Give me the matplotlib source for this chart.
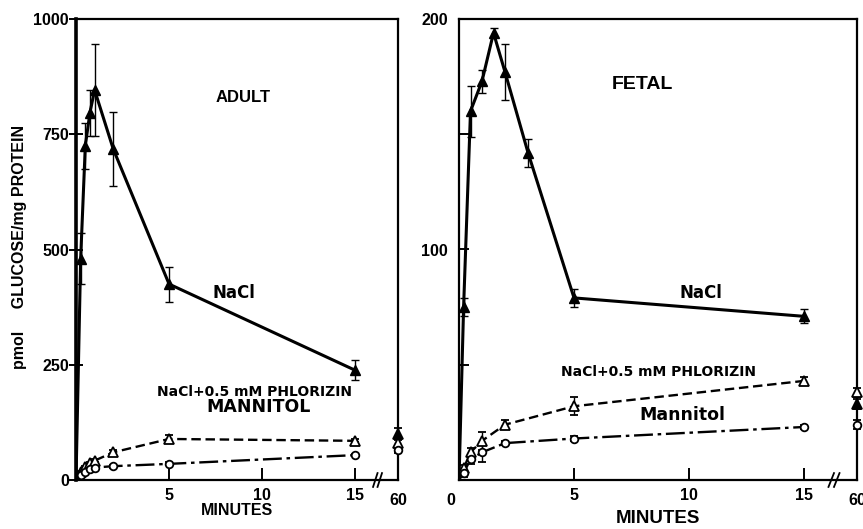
import matplotlib
matplotlib.use("Agg")
import matplotlib.pyplot as plt

plt.rcParams['font.family'] = ['Liberation Sans', 'DejaVu Sans']
plt.rcParams['font.weight'] = 'bold'
WIDE = ['DejaVu Sans']

# ---- data ----
X60 = 17.3  # display position of the 60-min point (after the axis break)

adult_t = [0.25, 0.5, 0.75, 1, 2, 5, 15]
adult_nacl = [480, 725, 797, 846, 718, 425, 238]
adult_nacl_err = [55, 50, 50, 100, 80, 38, 22]
adult_phl = [17, 28, 37, 42, 60, 89, 85]
adult_phl_err = [3, 3, 3, 4, 4, 9, 3]
adult_man = [10, 17, 24, 27, 30, 35, 54]
adult_man_err = [2, 2, 3, 3, 3, 3, 3]
adult_60 = {'nacl': (100, 12), 'phl': (80, 6), 'man': (65, 6)}

fetal_t = [0.2, 0.5, 1, 1.5, 2, 3, 5, 15]
fetal_nacl = [75, 160, 173, 194, 177, 142, 79, 71]
fetal_nacl_err = [4, 11, 5, 2, 12, 6, 4, 3]
fetal_t2 = [0.2, 0.5, 1, 2, 5, 15]
fetal_phl = [5, 12, 17, 24, 32, 43]
fetal_phl_err = [1.5, 2, 4, 2, 4, 1.5]
fetal_man = [3, 9, 12, 16, 18, 23]
fetal_man_err = [1.5, 2, 4, 1, 1, 1]
fetal_60 = {'nacl': (33, 2), 'phl': (38, 2), 'man': (24, 2)}

xticks = [0, 5, 10, 15, X60]
xticklabels = ['0', '5', '10', '15', '60']

fig = plt.figure(figsize=(8.63, 5.29), dpi=100)
axL = fig.add_axes([76/863, 1-480/529, 322/863, 461/529])
axR = fig.add_axes([459/863, 1-480/529, 398/863, 461/529])


def draw(ax, t, nacl, nacl_err, t2, phl, phl_err, man, man_err, d60):
    # lines starting from origin
    ax.plot([0] + list(t), [0] + list(nacl), color='black', lw=2.2, zorder=3)
    ax.errorbar(t, nacl, yerr=nacl_err, fmt='^', color='black', ms=7,
                ecolor='black', elinewidth=1.0, capsize=3, capthick=1.0, zorder=4)
    ax.plot([0] + list(t2), [0] + list(phl), color='black', lw=1.7,
            ls=(0, (4, 2)), zorder=3)
    ax.errorbar(t2, phl, yerr=phl_err, fmt='^', mfc='white', mec='black', mew=1.3,
                ms=6.5, ecolor='black', elinewidth=1.0, capsize=3, capthick=1.0, zorder=4)
    ax.plot([0] + list(t2), [0] + list(man), color='black', lw=1.7,
            ls=(0, (8, 2, 1.5, 2)), zorder=3)
    ax.errorbar(t2, man, yerr=man_err, fmt='o', mfc='white', mec='black', mew=1.3,
                ms=5.5, ecolor='black', elinewidth=1.0, capsize=3, capthick=1.0, zorder=4)
    # 60-min points
    for key, fmt, mfc in [('nacl', '^', 'black'), ('phl', '^', 'white'), ('man', 'o', 'white')]:
        v, e = d60[key]
        ax.errorbar([X60], [v], yerr=[e], fmt=fmt, mfc=mfc, mec='black', mew=1.3,
                    ms=6.5 if fmt == '^' else 5.5, ecolor='black', elinewidth=1.0,
                    capsize=3, capthick=1.0, clip_on=False, zorder=5)
    ax.set_xlim(0, X60)
    ax.set_xticks(xticks[1:4])
    ax.set_xticklabels(xticklabels[1:4])
    for s in ax.spines.values():
        s.set_linewidth(1.6)
    ax.tick_params(axis='x', direction='in', length=9, width=1.4, labelsize=11.5, pad=6)


draw(axL, adult_t, adult_nacl, adult_nacl_err, adult_t, adult_phl, adult_phl_err,
     adult_man, adult_man_err, adult_60)
draw(axR, fetal_t, fetal_nacl, fetal_nacl_err, fetal_t2, fetal_phl, fetal_phl_err,
     fetal_man, fetal_man_err, fetal_60)

# left panel axes
axL.set_ylim(0, 1000)
axL.set_yticks([0, 250, 500, 750, 1000])
axL.tick_params(axis='y', direction='inout', length=10, width=1.4, labelsize=11.5, pad=0)
axL.spines['left'].set_linewidth(2.6)
axL.text(X60, -0.028, '60', transform=axL.get_xaxis_transform(), ha='center', va='top',
         fontsize=11.5, fontweight='bold')
axL.set_xlabel('MINUTES', fontsize=11.5, fontweight='bold', labelpad=0)
fig.text(20/863, 1-247/529, 'pmol     GLUCOSE/mg PROTEIN', rotation=90, ha='center',
         va='center', fontsize=11.5, fontweight='bold')
axL.text(0.52, 0.83, 'ADULT', transform=axL.transAxes, ha='center', va='center',
         fontsize=12, fontweight='bold')
axL.text(8.5, 405, 'NaCl', ha='center', va='center', fontsize=12, fontweight='bold',
         family=WIDE)
axL.text(9.6, 190, 'NaCl+0.5 mM PHLORIZIN', ha='center', va='center', fontsize=10,
         fontweight='bold', family=WIDE)
axL.text(9.8, 158, 'MANNITOL', ha='center', va='center', fontsize=12.5, fontweight='bold',
         family=WIDE)

# right panel axes
axR.set_ylim(0, 200)
axR.set_yticks([50, 100, 150, 200])
axR.set_yticklabels(['', '100', '', '200'])
axR.tick_params(axis='y', direction='in', length=7, width=1.4, labelsize=11.5, pad=8)
axR.text(-0.35, -0.028, '0', transform=axR.get_xaxis_transform(), ha='center', va='top',
         fontsize=11.5, fontweight='bold')
axR.text(X60, -0.028, '60', transform=axR.get_xaxis_transform(), ha='center', va='top',
         fontsize=11.5, fontweight='bold')
axR.set_xlabel('MINUTES', fontsize=13.5, fontweight='bold', labelpad=5)
axR.text(0.46, 0.858, 'FETAL', transform=axR.transAxes, ha='center', va='center',
         fontsize=14, fontweight='bold')
axR.text(10.5, 81, 'NaCl', ha='center', va='center', fontsize=12, fontweight='bold',
         family=WIDE)
axR.text(8.65, 47, 'NaCl+0.5 mM PHLORIZIN', ha='center', va='center', fontsize=10,
         fontweight='bold', family=WIDE)
axR.text(9.7, 28, 'Mannitol', ha='center', va='center', fontsize=12.5, fontweight='bold',
         family=WIDE)

# axis break marks
for ax, xb in [(axL, 16.2), (axR, 16.3)]:
    for dx in (-0.12, 0.12):
        ax.plot([xb + dx - 0.12, xb + dx + 0.12], [-0.015, 0.015], color='black', lw=1.3,
                transform=ax.get_xaxis_transform(), clip_on=False, zorder=6)

fig.savefig('out.png', dpi=100)
